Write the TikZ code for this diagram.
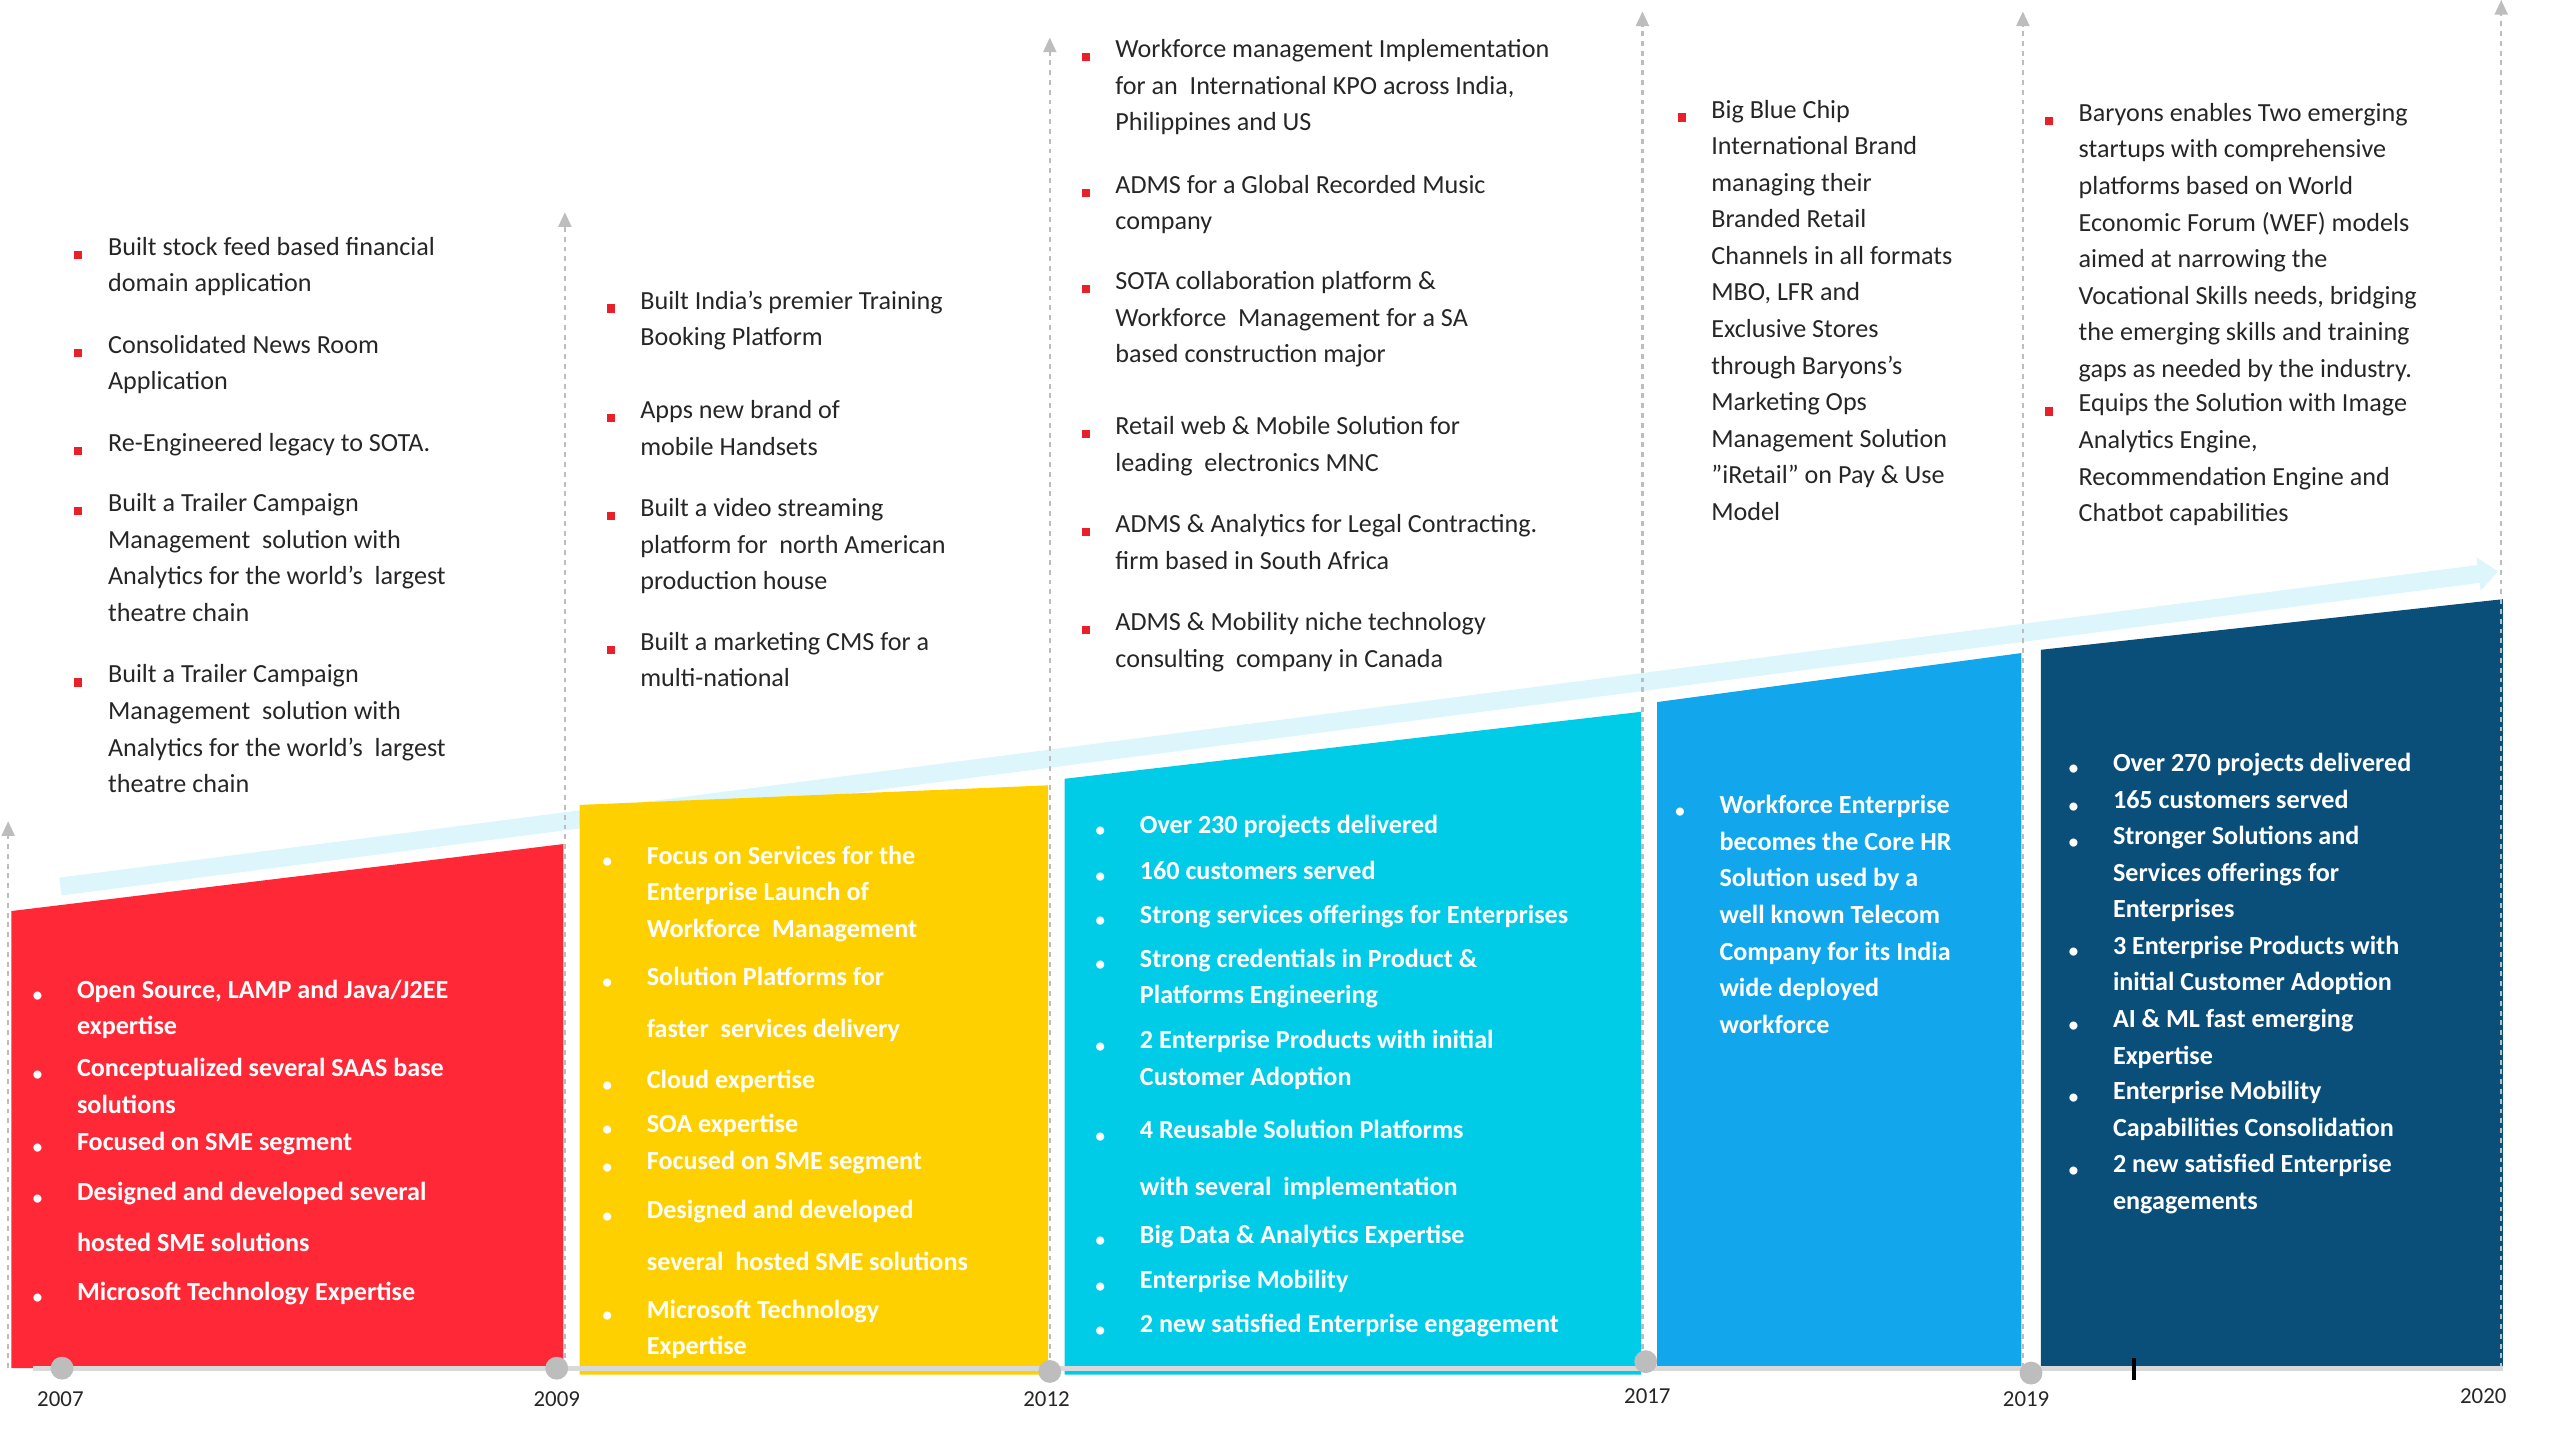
\documentclass[tikz,border=0pt]{standalone}
\usepackage{fontspec}
\setmainfont{Carlito}
\usetikzlibrary{arrows.meta}
\definecolor{cred}{HTML}{FF2837}
\definecolor{cyel}{HTML}{FFD000}
\definecolor{ccyan}{HTML}{00CCE8}
\definecolor{cblue}{HTML}{12A6EC}
\definecolor{cnavy}{HTML}{0A4E7A}
\definecolor{cband}{HTML}{DDF6FB}
\definecolor{bred}{HTML}{E8202A}
\definecolor{cgray}{HTML}{BDBDBD}
\definecolor{ctext}{HTML}{262626}
\newcounter{itm}
\tikzset{
 rbul/.style={fill=bred,minimum size=5pt,inner sep=0pt},
 rtxt/.style={anchor=north west,inner sep=0pt,align=left,text=ctext,font=\fontsize{16}{22.4}\selectfont},
 wbul/.style={text=white,font=\fontsize{14}{16}\selectfont,inner sep=0pt},
 wtxt/.style={anchor=north west,inner sep=0pt,align=left,text=white,font=\fontsize{16}{22.4}\selectfont\bfseries},
 vline/.style={cgray,dashed,line width=1.4pt,-{Triangle[length=9pt,width=8pt]}},
 dot/.style={circle,fill=cgray,minimum size=14pt,inner sep=0pt},
 yr/.style={text=ctext,font=\fontsize{14}{16}\selectfont,inner sep=0pt}
}
\newcommand\ritem[3]{\stepcounter{itm}\node[rbul] (rb\arabic{itm}) at ({#1-18},{#2}) {};\node[rtxt] (rt\arabic{itm}) at ({#1},{#2-11}) {#3};}
\newcommand\witem[3]{\stepcounter{itm}\node[wbul] (wb\arabic{itm}) at ({#1-24},{#2}) {•};\node[wtxt] (wt\arabic{itm}) at ({#1},{#2-11}) {#3};}
\newcommand\wline[3]{\stepcounter{itm}\node[wtxt] (wl\arabic{itm}) at ({#1},{#2-11}) {#3};}
\begin{document}
\begin{tikzpicture}[x=1pt,y=-1pt]
\useasboundingbox (0,0) rectangle (1568,878);
% band
\coordinate (bs) at (37,543); \coordinate (be) at (1530,350);
\draw[cband,line width=11pt,-{Triangle[length=12pt,width=20pt]}] (bs) -- (be);
% blocks
\fill[cred] (7,558) -- (345,517) -- (345,838) -- (7,838) -- cycle;
\fill[cyel] (355,493) -- (642,481) -- (642,842) -- (355,842) -- cycle;
\fill[ccyan] (652,477) -- (1005,436) -- (1005,842) -- (652,842) -- cycle;
\fill[cblue] (1015,430) -- (1238,400) -- (1238,838) -- (1015,838) -- cycle;
\fill[cnavy] (1250,398) -- (1533,367) -- (1533,838) -- (1250,838) -- cycle;
% vertical dashed lines
\foreach \n/\x/\t in {a/5/503,b/346/130,c/643/23,d/1006/7,e/1239/7,f/1532/0}{
 \coordinate (v\n0) at (\x,838); \coordinate (v\n1) at (\x,\t);
 \draw[vline] (v\n0) -- (v\n1);}
% baseline
\coordinate (l0) at (20,838); \coordinate (l1) at (1533,838);
\draw[gray!30,line width=3pt] (l0) -- (l1);
\coordinate (tk0) at (1307,832); \coordinate (tk1) at (1307,845);
\draw[black,line width=2pt] (tk0) -- (tk1);
\node[dot] (d1) at (38,838) {};
\node[dot] (d2) at (341,838) {};
\node[dot] (d3) at (643,840) {};
\node[dot] (d4) at (1008,834) {};
\node[dot] (d5) at (1244,841) {};
\node[yr] (y1) at (37,857) {2007};
\node[yr] (y2) at (341,857) {2009};
\node[yr] (y3) at (641,857) {2012};
\node[yr] (y4) at (1009,855) {2017};
\node[yr] (y5) at (1241,857) {2019};
\node[yr] (y6) at (1521,855) {2020};
% column 1
\ritem{66}{156}{Built stock feed based financial\\domain application}
\ritem{66}{216}{Consolidated News Room\\Application}
\ritem{66}{276}{Re-Engineered legacy to SOTA.}
\ritem{66}{313}{Built a Trailer Campaign\\Management\ \ solution with\\Analytics for the world’s\ \ largest\\theatre chain}
\ritem{66}{418}{Built a Trailer Campaign\\Management\ \ solution with\\Analytics for the world’s\ \ largest\\theatre chain}
% column 2
\ritem{392}{189}{Built India’s premier Training\\Booking Platform}
\ritem{392}{256}{Apps new brand of\\mobile Handsets}
\ritem{392}{316}{Built a video streaming\\platform for\ \ north American\\production house}
\ritem{392}{398}{Built a marketing CMS for a\\multi-national}
% column 3
\ritem{683}{35}{Workforce management Implementation\\for an\ \ International KPO across India,\\Philippines and US}
\ritem{683}{118}{ADMS for a Global Recorded Music\\company}
\ritem{683}{177}{SOTA collaboration platform \&\\Workforce\ \ Management for a SA\\based construction major}
\ritem{683}{266}{Retail web \& Mobile Solution for\\leading\ \ electronics MNC}
\ritem{683}{326}{ADMS \& Analytics for Legal Contracting.\\firm based in South Africa}
\ritem{683}{386}{ADMS \& Mobility niche technology\\consulting\ \ company in Canada}
% column 4
\ritem{1048}{72}{Big Blue Chip\\International Brand\\managing their\\Branded Retail\\Channels in all formats\\MBO, LFR and\\Exclusive Stores\\through Baryons's\\Marketing Ops\\Management Solution\\"iRetail" on Pay \& Use\\Model}
% column 5
\ritem{1273}{74}{Baryons enables Two emerging\\startups with comprehensive\\platforms based on World\\Economic Forum (WEF) models\\aimed at narrowing the\\Vocational Skills needs, bridging\\the emerging skills and training\\gaps as needed by the industry.}
\ritem{1273}{252}{Equips the Solution with Image\\Analytics Engine,\\Recommendation Engine and\\Chatbot capabilities}
% red block
\witem{47}{611}{Open Source, LAMP and Java/J2EE\\expertise}
\witem{47}{659}{Conceptualized several SAAS base\\solutions}
\witem{47}{704}{Focused on SME segment}
\witem{47}{735}{Designed and developed several}
\wline{47}{766}{hosted SME solutions}
\witem{47}{796}{Microsoft Technology Expertise}
% yellow block
\witem{396}{529}{Focus on Services for the\\Enterprise Launch of\\Workforce\ \ Management}
\witem{396}{603}{Solution Platforms for}
\wline{396}{635}{faster\ \ services delivery}
\witem{396}{666}{Cloud expertise}
\witem{396}{693}{SOA expertise}
\witem{396}{716}{Focused on SME segment}
\witem{396}{746}{Designed and developed}
\wline{396}{778}{several\ \ hosted SME solutions}
\witem{396}{807}{Microsoft Technology\\Expertise}
% cyan block
\witem{698}{510}{Over 230 projects delivered}
\witem{698}{538}{160 customers served}
\witem{698}{565}{Strong services offerings for Enterprises}
\witem{698}{592}{Strong credentials in Product \&\\Platforms Engineering}
\witem{698}{642}{2 Enterprise Products with initial\\Customer Adoption}
\witem{698}{697}{4 Reusable Solution Platforms}
\wline{698}{732}{with several\ \ implementation}
\witem{698}{761}{Big Data \& Analytics Expertise}
\witem{698}{789}{Enterprise Mobility}
\witem{698}{816}{2 new satisfied Enterprise engagement}
% blue block
\witem{1053}{498}{Workforce Enterprise\\becomes the Core HR\\Solution used by a\\well known Telecom\\Company for its India\\wide deployed\\workforce}
% navy block
\witem{1294}{472}{Over 270 projects delivered}
\witem{1294}{495}{165 customers served}
\witem{1294}{517}{Stronger Solutions and\\Services offerings for\\Enterprises}
\witem{1294}{584}{3 Enterprise Products with\\initial Customer Adoption}
\witem{1294}{629}{AI \& ML fast emerging\\Expertise}
\witem{1294}{673}{Enterprise Mobility\\Capabilities Consolidation}
\witem{1294}{718}{2 new satisfied Enterprise\\engagements}
\end{tikzpicture}
\end{document}
